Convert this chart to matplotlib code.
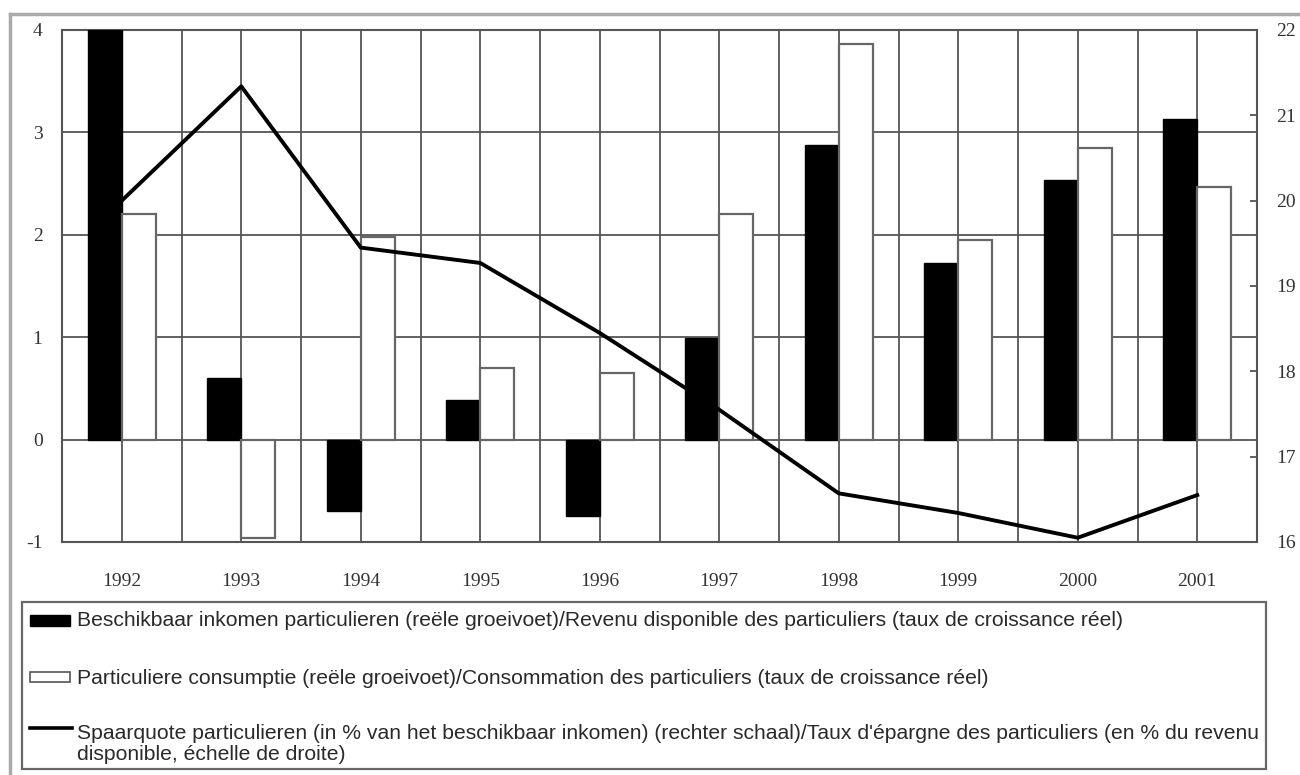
#!/usr/bin/python3

"""
Household income, consumption and savings ratio, 1992-2001.
"""

import matplotlib
matplotlib.use("Agg")
import matplotlib.pyplot as plt
from matplotlib.lines import Line2D
from matplotlib.patches import Rectangle
import numpy as np

years = ["1992", "1993", "1994", "1995", "1996",
         "1997", "1998", "1999", "2000", "2001"]

# Left scale: real growth rates (%)
income_growth = [4.0, 0.6, -0.7, 0.39, -0.75, 0.99, 2.88, 1.72, 2.54, 3.13]
consumption_growth = [2.2, -0.96, 1.98, 0.70, 0.65, 2.2, 3.86, 1.95, 2.85, 2.47]

# Right scale: savings ratio (% of disposable income)
savings_ratio = [20.0, 21.34, 19.45, 19.27, 18.45, 17.55, 16.57, 16.34, 16.05, 16.55]

label_income = ("Beschikbaar inkomen particulieren (reële groeivoet)/"
                "Revenu disponible des particuliers (taux de croissance réel)")
label_consumption = ("Particuliere consumptie (reële groeivoet)/"
                     "Consommation des particuliers (taux de croissance réel)")
label_savings = ("Spaarquote particulieren (in % van het beschikbaar inkomen) "
                 "(rechter schaal)/Taux d'épargne des particuliers (en % du revenu\n"
                 "disponible, échelle de droite)")

W, H = 1300, 775
GRID = "#555555"
SERIF = "Liberation Serif"
SANS = "Liberation Sans"
TEXT = "#2a2a2a"


def draw_legend(fig):
    # a pixel-coordinate overlay for the legend box below the chart
    lg = fig.add_axes([0, 0, 1, 1], facecolor="none")
    lg.set_xlim(0, W)
    lg.set_ylim(H, 0)
    lg.axis("off")

    lg.add_patch(Rectangle((22, 602), 1244, 167, facecolor="none",
                           edgecolor="#666666", lw=1.6))
    lg.add_patch(Rectangle((30, 615), 40, 11, facecolor="black",
                           edgecolor="black", lw=1))
    lg.add_patch(Rectangle((30, 672), 40, 10, facecolor="white",
                           edgecolor="#555555", lw=1.2))
    lg.plot([30, 72], [728, 728], color="black", lw=2.6)

    kw = dict(family=SANS, fontsize=15.2, color=TEXT, va="center", ha="left")
    lg.text(77, 621, label_income, **kw)
    lg.text(77, 678, label_consumption, **kw)
    lg.text(77, 744, label_savings, linespacing=1.1, **kw)


def main():
    plt.rcParams["axes.unicode_minus"] = False
    fig = plt.figure(figsize=(W / 100, H / 100), dpi=100)

    # outer frame (runs off the right and bottom edges)
    fig.add_artist(Line2D([10 / W, 1.0], [1 - 14 / H, 1 - 14 / H],
                          color="#aaaaaa", lw=2.5, transform=fig.transFigure))
    fig.add_artist(Line2D([10 / W, 10 / W], [0.0, 1 - 14 / H],
                          color="#aaaaaa", lw=2.5, transform=fig.transFigure))

    ax = fig.add_axes([62 / W, 1 - 542 / H, (1257 - 62) / W, (542 - 30) / H])
    x = np.arange(len(years))
    w = 0.285

    ax.bar(x - w / 2, income_growth, w, color="black", edgecolor="black",
           linewidth=1, zorder=3)
    ax.bar(x + w / 2, consumption_growth, w, color="white", edgecolor="#666666",
           linewidth=1.6, zorder=3)

    ax.set_xlim(-0.5, len(years) - 0.5)
    ax.set_ylim(-1, 4)
    ax.set_yticks(range(-1, 5))
    ax.set_yticklabels([str(v) for v in range(-1, 5)])
    ax.set_xticks(x)
    ax.set_xticklabels(years)
    ax.set_xticks(np.arange(0.5, len(years) - 1, 1.0), minor=True)
    ax.grid(True, which="both", axis="x", color=GRID, lw=1.3, zorder=1)
    ax.grid(True, which="major", axis="y", color=GRID, lw=1.3, zorder=1)
    ax.set_axisbelow(True)
    ax.tick_params(axis="both", which="both", length=0)
    ax.tick_params(axis="x", pad=22)
    ax.tick_params(axis="y", pad=14)
    for lab in ax.get_xticklabels() + ax.get_yticklabels():
        lab.set_fontfamily(SERIF)
        lab.set_fontsize(14)
        lab.set_color("#333333")
    for sp in ax.spines.values():
        sp.set_color(GRID)
        sp.set_linewidth(1.5)

    ax2 = ax.twinx()
    ax2.plot(x, savings_ratio, color="black", lw=2.8, zorder=5)
    ax2.set_ylim(16, 22)
    ax2.set_yticks(range(16, 23))
    ax2.tick_params(axis="y", direction="in", length=5, width=1.3,
                    color=GRID, pad=14)
    for lab in ax2.get_yticklabels():
        lab.set_fontfamily(SERIF)
        lab.set_fontsize(14)
        lab.set_color("#333333")
    for sp in ax2.spines.values():
        sp.set_visible(False)

    draw_legend(fig)

    fig.savefig("out.png", dpi=100)


if __name__ == "__main__":
    main()
